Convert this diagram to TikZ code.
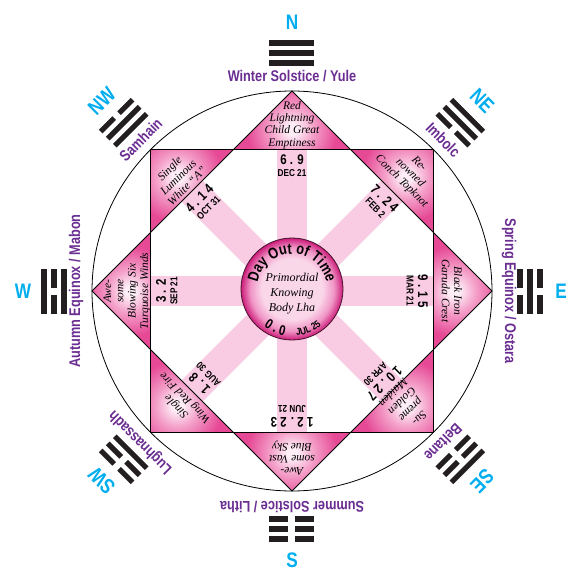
\documentclass[tikz,border=0pt]{standalone}
\usepackage{fontspec}
\setmainfont{Liberation Serif}
\newfontfamily\condfont[FakeStretch=0.82]{Liberation Sans}
\usetikzlibrary{decorations.text}
\definecolor{barpink}{RGB}{249,204,227}
\definecolor{tricenter}{RGB}{253,238,246}
\definecolor{trimid}{RGB}{244,160,201}
\definecolor{triedge}{RGB}{230,74,150}
\definecolor{circin}{RGB}{250,214,233}
\definecolor{circmid}{RGB}{240,150,198}
\definecolor{circedge}{RGB}{204,28,122}
\definecolor{hubline}{RGB}{70,20,45}
\definecolor{seasonpurple}{RGB}{106,45,145}
\definecolor{dircyan}{RGB}{0,174,239}
\definecolor{trigramblack}{RGB}{35,31,32}
\pgfdeclareradialshading{trishade}{\pgfpoint{0bp}{0bp}}{color(0bp)=(tricenter); color(3bp)=(tricenter); color(12bp)=(trimid); color(25bp)=(triedge); color(50bp)=(triedge)}
\pgfdeclareradialshading{circshade}{\pgfpoint{0bp}{0bp}}{color(0bp)=(circin); color(15bp)=(circin); color(20.5bp)=(circmid); color(25bp)=(circedge); color(50bp)=(circedge)}
\tikzset{
  tritext/.style={font=\itshape\fontsize{11.5}{12.3}\selectfont, align=center, inner sep=0pt},
  numtext/.style={font=\condfont\bfseries\fontsize{14}{14}\selectfont, inner sep=0pt},
  datetext/.style={font=\condfont\bfseries\fontsize{10}{10}\selectfont, inner sep=0pt},
  seasontext/.style={font=\condfont\bfseries\fontsize{15.5}{15.5}\selectfont, text=seasonpurple, inner sep=0pt},
  dirtext/.style={font=\condfont\bfseries\fontsize{21}{21}\selectfont, text=dircyan, inner sep=0pt},
  hubtext/.style={font=\itshape\fontsize{12}{15}\selectfont, align=center, inner sep=0pt},
  thinline/.style={draw=black, line width=0.8pt},
}
\newcommand{\tgbar}[2]{\ifnum#2=1 \fill[trigramblack] (-22.5,#1-2.6) rectangle (22.5,#1+2.6);\else \fill[trigramblack] (-22.5,#1-2.6) rectangle (-3.5,#1+2.6); \fill[trigramblack] (3.5,#1-2.6) rectangle (22.5,#1+2.6);\fi}
\newcommand{\trigram}[4]{\begin{scope}[rotate=#1]\tgbar{228}{#2}\tgbar{238}{#3}\tgbar{248}{#4}\end{scope}}
\begin{document}
\begin{tikzpicture}[x=1pt,y=1pt]
\useasboundingbox (-292,-293) rectangle (292,291);
\fill[white] (-292,-293) rectangle (292,291);
% rays
\foreach \a in {0,45,...,315} {
  \fill[barpink, rotate=\a] (-15,0) rectangle (15,141.42);
}
% axis triangles
\foreach \a in {0,90,180,270} {
  \begin{scope}[rotate=\a]
    \clip (0,200) -- (-58.58,141.42) -- (58.58,141.42) -- cycle;
    \fill[triedge] (-60,140) rectangle (60,201);
    \shade[shading=trishade] (0,162) circle (45);
  \end{scope}
}
% corner triangles
\foreach \a in {0,90,180,270} {
  \begin{scope}[rotate=\a]
    \clip (141.42,141.42) -- (141.42,58.58) -- (58.58,141.42) -- cycle;
    \fill[triedge] (58,58) rectangle (142,142);
    \shade[shading=trishade] (114.5,114.5) circle (45);
  \end{scope}
}
% outlines
\draw[thinline] (-141.42,-141.42) rectangle (141.42,141.42);
\draw[thinline] (0,200) -- (200,0) -- (0,-200) -- (-200,0) -- cycle;
\draw[thinline] (0,0) circle (200);
% hub
\node[circle, minimum size=102pt, inner sep=0pt, shade, shading=circshade, draw=hubline, line width=0.8pt] (hub) at (0,2) {};
\node[hubtext] (hubt) at (0,-3) {Primordial\\Knowing\\Body Lha};
\path[decorate, decoration={text along path, text align=center, text={|\condfont\bfseries\fontsize{15.5}{15.5}\selectfont|Day Out of Time}}] (-35,2) arc (180:0:35);
\path[decorate, decoration={text along path, text align=center, text={|\condfont\bfseries\fontsize{14}{14}\selectfont|0 . 0}}] (-33.23,-31.23) arc (225:269:47);
\path[decorate, decoration={text along path, text align=center, text={|\condfont\bfseries\fontsize{10}{10}\selectfont|JUL 25}}] (1.64,-44.97) arc (272:312:47);
% triangle texts
\node[tritext] (tN) at (90:166) {Red\\Lightning\\Child Great\\Emptiness};
\node[tritext, rotate=-45] (tNE) at (45:167) {Re-\\nowned\\Conch Topknot};
\node[tritext, rotate=-90] (tE) at (0:160) {Black Iron\\Garuda Crest};
\node[tritext, rotate=-135] (tSE) at (-45:162) {Su-\\preme\\Golden\\Maiden};
\node[tritext, rotate=180] (tS) at (-90:167) {Awe-\\some Vast\\Blue Sky};
\node[tritext, rotate=135] (tSW) at (-135:157) {Single\\Wing Red Fire};
\node[tritext, rotate=90] (tW) at (180:165) {Awe-\\some\\Blowing Six\\Turquoise Winds};
\node[tritext, rotate=45] (tNW) at (135:161) {Single\\Luminous\\White “A”};
% numbers and dates
\node[numtext] (nN) at (90:131) {6 . 9};
\node[datetext] (dN) at (90:118) {DEC 21};
\node[numtext, rotate=-45] (nNE) at (45:131) {7 . 2 4};
\node[datetext, rotate=-45] (dNE) at (45:118) {FEB 2};
\node[numtext, rotate=-90] (nE) at (0:131) {9 . 1 5};
\node[datetext, rotate=-90] (dE) at (0:118) {MAR 21};
\node[numtext, rotate=-135] (nSE) at (-45:131) {1 0 . 2 7};
\node[datetext, rotate=-135] (dSE) at (-45:118) {APR 30};
\node[numtext, rotate=180] (nS) at (-90:131) {1 2 . 2 3};
\node[datetext, rotate=180] (dS) at (-90:118) {JUN 21};
\node[numtext, rotate=135] (nSW) at (-135:131) {1 . 8};
\node[datetext, rotate=135] (dSW) at (-135:118) {AUG 30};
\node[numtext, rotate=90] (nW) at (180:131) {3 . 2};
\node[datetext, rotate=90] (dW) at (180:118) {SEP 21};
\node[numtext, rotate=45] (nNW) at (135:131) {4 . 1 4};
\node[datetext, rotate=45] (dNW) at (135:118) {OCT 31};
% seasons
\node[seasontext] (sN) at (90:215) {Winter Solstice / Yule};
\node[seasontext, rotate=-45] (sNE) at (45:214) {Imbolc};
\node[seasontext, rotate=-90] (sE) at (0:217) {Spring Equinox / Ostara};
\node[seasontext, rotate=-135] (sSE) at (-45:214) {Beltane};
\node[seasontext, rotate=180] (sS) at (-90:216) {Summer Solstice / Litha};
\node[seasontext, rotate=135] (sSW) at (-135:214) {Lughnassadh};
\node[seasontext, rotate=90] (sW) at (180:216) {Autumn Equinox / Mabon};
\node[seasontext, rotate=45] (sNW) at (135:214) {Samhain};
% directions
\node[dirtext] (lN) at (90:269) {N};
\node[dirtext, rotate=-45] (lNE) at (45:269) {NE};
\node[dirtext] (lE) at (0:269) {E};
\node[dirtext, rotate=-135] (lSE) at (-45:269) {SE};
\node[dirtext] (lS) at (-90:269) {S};
\node[dirtext, rotate=135] (lSW) at (-135:269) {SW};
\node[dirtext] (lW) at (180:269) {W};
\node[dirtext, rotate=45] (lNW) at (135:269) {NW};
% trigrams (inner, middle, outer)
\trigram{0}{1}{1}{1}
\trigram{-45}{0}{1}{1}
\trigram{-90}{0}{1}{0}
\trigram{-135}{0}{0}{1}
\trigram{180}{0}{0}{0}
\trigram{135}{1}{0}{0}
\trigram{90}{1}{0}{1}
\trigram{45}{1}{1}{0}
\end{tikzpicture}
\end{document}
